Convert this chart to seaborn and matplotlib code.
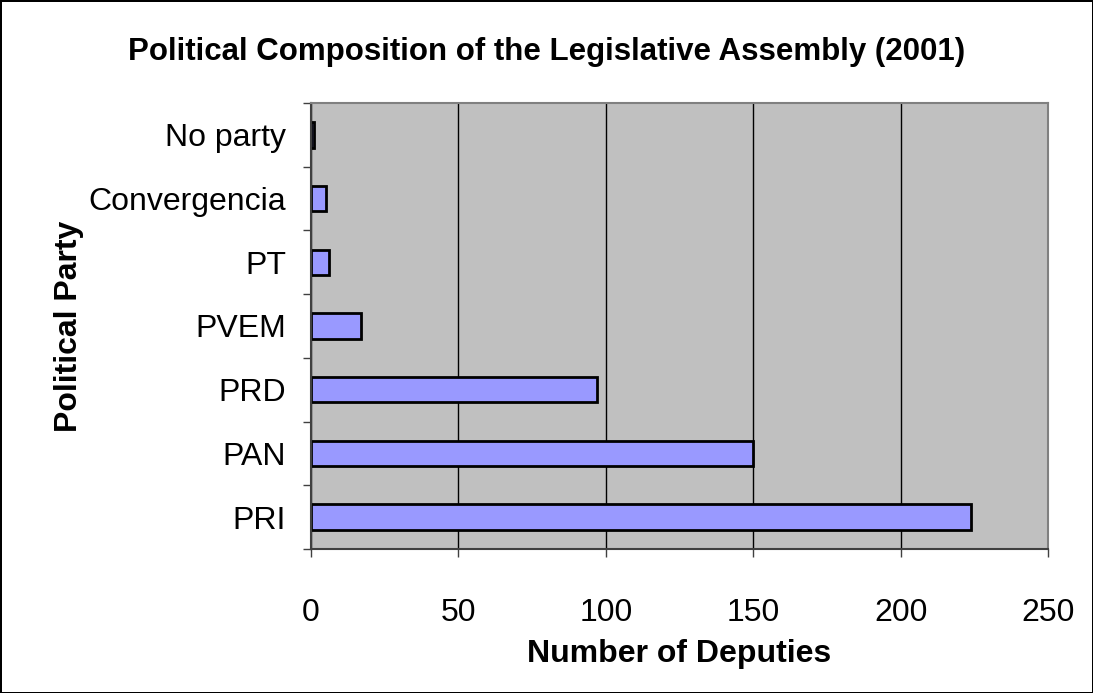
import matplotlib
matplotlib.use('Agg')
from matplotlib import pyplot as plt
from matplotlib.ticker import FixedLocator
import seaborn as sns
import pandas as pd

parties = ['No party', 'Convergencia', 'PT', 'PVEM', 'PRD', 'PAN', 'PRI']
deputies = [1, 5, 6, 17, 97, 150, 224]
x_ticks = [0, 50, 100, 150, 200, 250]

df = pd.DataFrame({'party': parties, 'deputies': deputies})

sns.set_theme(style='white')
plt.rcParams['font.family'] = ['Liberation Sans', 'DejaVu Sans']
plt.rcParams['text.color'] = 'black'
plt.rcParams['axes.labelcolor'] = 'black'
plt.rcParams['xtick.color'] = 'black'
plt.rcParams['ytick.color'] = 'black'

fig = plt.figure(figsize=(10.93, 6.93), dpi=100)
fig.patch.set_facecolor('white')
fig.patch.set_edgecolor('black')
fig.patch.set_linewidth(2)
ax = fig.add_axes([0.2845, 0.2078, 0.6743, 0.6436])

sns.barplot(data=df, x='deputies', y='party', order=parties, orient='h',
            color='#9999FF', saturation=1, width=0.4,
            edgecolor='black', linewidth=2, ax=ax)

ax.set_facecolor('#C0C0C0')
ax.set_axisbelow(True)
ax.set_xlim(0, 250)
ax.set_ylim(6.5, -0.5)
ax.set_xticks(x_ticks)
ax.xaxis.grid(True, color='black', linewidth=1)
ax.yaxis.grid(False)

# Excel-style category ticks sit between the bars
ax.yaxis.set_minor_locator(FixedLocator([i - 0.5 for i in range(len(parties) + 1)]))
ax.tick_params(axis='y', which='major', length=0, labelsize=23, pad=18)
ax.tick_params(axis='y', which='minor', left=True, length=6, width=1, color='#404040')
ax.tick_params(axis='x', which='major', bottom=True, length=6, width=1, color='#404040',
               labelsize=23, pad=29)

for side in ['left', 'bottom']:
    ax.spines[side].set_color('#404040')
    ax.spines[side].set_linewidth(1.5)
for side in ['top', 'right']:
    ax.spines[side].set_color('#808080')
    ax.spines[side].set_linewidth(1.5)

ax.set_xlabel('Number of Deputies', fontsize=23, fontweight='bold', labelpad=8)
ax.set_ylabel('Political Party', fontsize=23, fontweight='bold', labelpad=3)
fig.suptitle('Political Composition of the Legislative Assembly (2001)',
             fontsize=22.5, fontweight='bold', y=0.947)

plt.savefig('out.png', dpi=100)
